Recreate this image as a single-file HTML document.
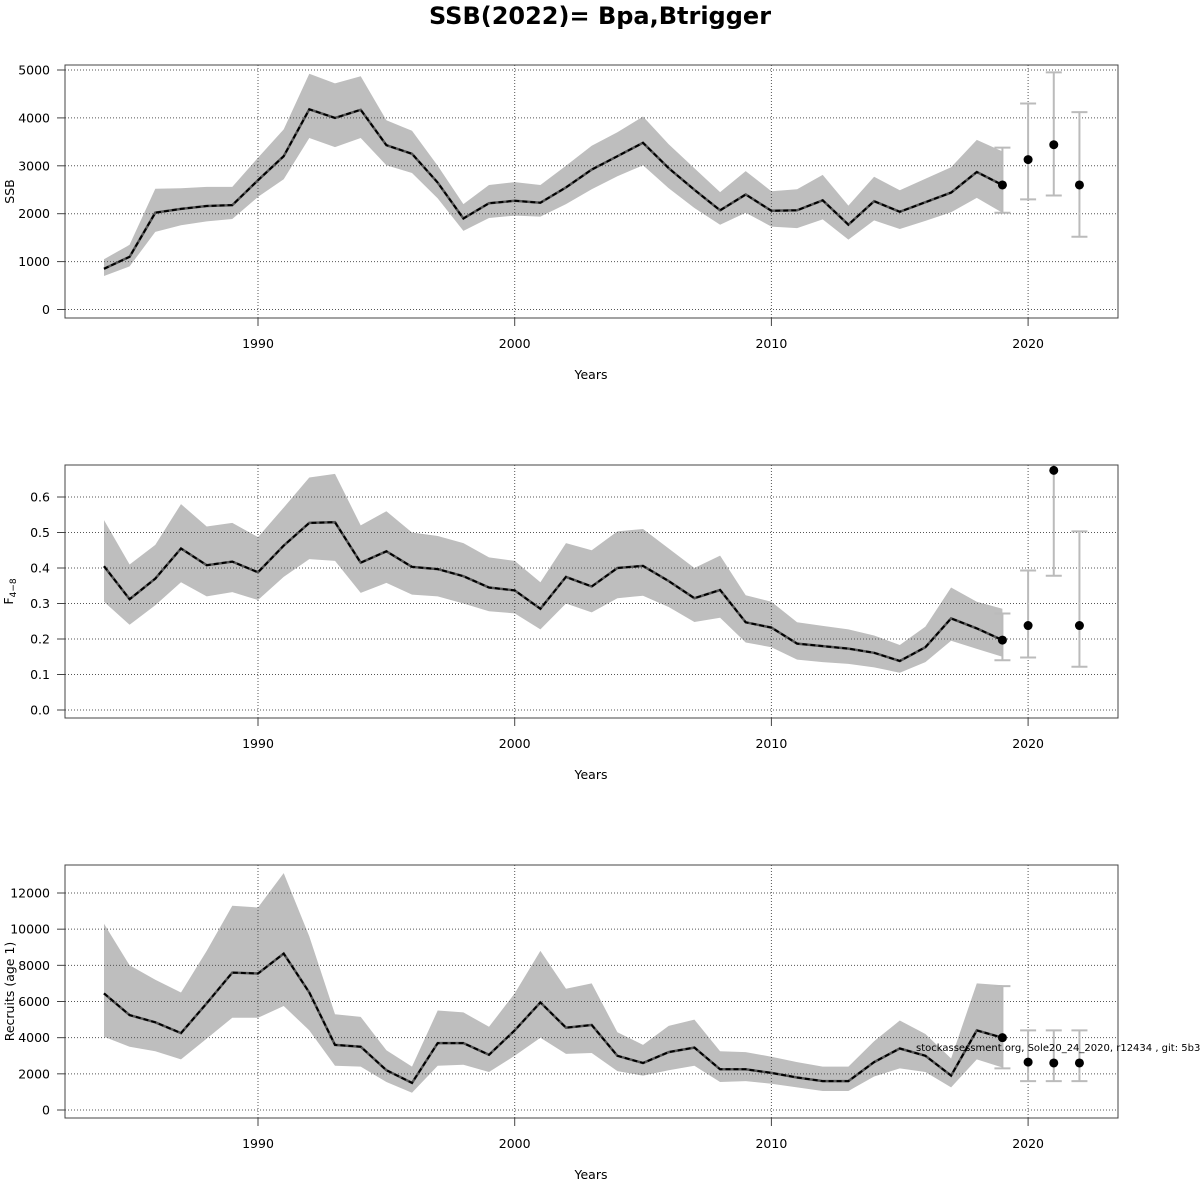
<!DOCTYPE html>
<html><head><meta charset="utf-8"><style>
html,body{margin:0;padding:0;background:#fff;width:1200px;height:1200px;overflow:hidden}
svg text{font-family:"DejaVu Sans","Liberation Sans",sans-serif;font-size:12.5px;fill:#000}
</style></head><body>
<svg id="s" width="1200" height="1200" xmlns="http://www.w3.org/2000/svg">
<text x="600" y="24" text-anchor="middle" style="font-size:24px;font-weight:bold">SSB(2022)= Bpa,Btrigger</text>
</svg>
<script>
const S=document.getElementById('s');const NS='http://www.w3.org/2000/svg';
function el(t,a,txt){const e=document.createElementNS(NS,t);for(const k in a)e.setAttribute(k,a[k]);if(txt!==undefined)e.textContent=txt;S.appendChild(e);return e;}
const X=y=>258+(y-1990)*25.67;
const yrs=[];for(let y=1984;y<=2019;y++)yrs.push(y);
const panels=[
{top:65,bot:318,v0:0,p0:309.5,v1:5000,p1:70,ticks:[0,1000,2000,3000,4000,5000],lab:t=>String(t),ylab:'SSB',
m:[850,1100,2020,2100,2160,2180,2700,3200,4180,4000,4170,3430,3250,2650,1900,2220,2270,2230,2550,2920,3200,3480,2950,2500,2070,2400,2060,2070,2280,1770,2260,2040,2240,2440,2870,2600],
u:[1050,1350,2520,2530,2560,2560,3170,3760,4920,4720,4870,3950,3730,3000,2200,2600,2660,2600,3000,3420,3700,4030,3450,2950,2450,2890,2470,2510,2810,2170,2770,2490,2730,2970,3540,3300],
l:[700,900,1620,1760,1840,1890,2350,2720,3580,3390,3580,3010,2850,2320,1640,1910,1960,1940,2200,2510,2780,3010,2530,2120,1770,2020,1730,1700,1880,1460,1860,1680,1850,2030,2330,2020],
pts:[[2019,2600,2020,3380],[2020,3130,2300,4300],[2021,3440,2380,4950],[2022,2600,1520,4120]]},
{top:465,bot:718,v0:0,p0:710,v1:0.6,p1:497,ticks:[0,.1,.2,.3,.4,.5,.6],lab:t=>t.toFixed(1),ylab:'F',
m:[.405,.312,.370,.455,.408,.418,.388,.463,.527,.529,.415,.447,.403,.397,.377,.345,.337,.285,.375,.348,.400,.406,.363,.315,.338,.247,.232,.187,.180,.173,.161,.138,.177,.258,.230,.197],
u:[.535,.410,.465,.580,.517,.527,.487,.570,.655,.665,.520,.560,.500,.490,.470,.430,.420,.360,.470,.450,.503,.510,.455,.400,.435,.323,.305,.247,.237,.227,.210,.183,.235,.345,.305,.285],
l:[.305,.240,.295,.360,.320,.332,.310,.375,.425,.420,.330,.358,.325,.320,.300,.278,.272,.227,.300,.275,.315,.322,.290,.248,.260,.190,.177,.142,.135,.130,.120,.105,.135,.195,.172,.150],
pts:[[2019,.197,.140,.272],[2020,.238,.148,.393],[2021,.675,.378,0.75],[2022,.238,.122,.503]]},
{top:865,bot:1118,v0:0,p0:1110,v1:12000,p1:893,ticks:[0,2000,4000,6000,8000,10000,12000],lab:t=>String(t),ylab:'Recruits (age 1)',
m:[6450,5250,4850,4250,5900,7600,7550,8650,6500,3600,3500,2200,1500,3700,3700,3050,4400,5950,4550,4700,3000,2600,3200,3450,2250,2250,2050,1800,1600,1600,2650,3400,3000,1900,4400,4000],
u:[10300,8000,7200,6500,8800,11300,11200,13100,9600,5300,5150,3300,2400,5500,5400,4600,6450,8800,6700,7000,4300,3600,4650,5000,3250,3200,2950,2650,2400,2400,3800,4950,4200,2850,7000,6900],
l:[4050,3500,3250,2800,3950,5100,5100,5750,4400,2450,2400,1550,950,2450,2500,2100,3000,4000,3100,3150,2150,1900,2200,2450,1550,1600,1450,1250,1050,1050,1850,2300,2100,1250,2800,2350],
pts:[[2019,4000,2300,6850],[2020,2650,1600,4400],[2021,2600,1600,4400],[2022,2600,1600,4400]]}];
panels.forEach((P,i)=>{
 const Y=v=>P.p0+(v-P.v0)*(P.p1-P.p0)/(P.v1-P.v0);
 const cid='c'+i;
 const cp=el('clipPath',{id:cid});const r=document.createElementNS(NS,'rect');
 r.setAttribute('x',65);r.setAttribute('y',P.top);r.setAttribute('width',1053);r.setAttribute('height',P.bot-P.top);cp.appendChild(r);
 let d='M'+yrs.map((y,k)=>X(y).toFixed(1)+','+Y(P.u[k]).toFixed(1)).join('L');
 for(let k=yrs.length-1;k>=0;k--)d+='L'+X(yrs[k]).toFixed(1)+','+Y(P.l[k]).toFixed(1);
 el('path',{d:d+'Z',fill:'#bebebe','clip-path':`url(#${cid})`});
 P.ticks.forEach(t=>el('line',{x1:65,x2:1118,y1:Y(t),y2:Y(t),stroke:'#555','stroke-dasharray':'1 2','stroke-width':1}));
 [1990,2000,2010,2020].forEach(y=>el('line',{x1:X(y),x2:X(y),y1:P.top,y2:P.bot,stroke:'#555','stroke-dasharray':'1 2','stroke-width':1}));
 const line=yrs.map((y,k)=>X(y).toFixed(1)+','+Y(P.m[k]).toFixed(1)).join(' ');
 el('polyline',{points:line,fill:'none',stroke:'#555','stroke-width':2.5});
 el('polyline',{points:line,fill:'none',stroke:'#000','stroke-width':2,'stroke-dasharray':'5 3'});
 P.pts.forEach(p=>{const x=X(p[0]);const g=el('g',{'clip-path':`url(#${cid})`,stroke:'#bbbbbb','stroke-width':2});
  [['line',{x1:x,x2:x,y1:Y(p[2]),y2:Y(p[3])}],['line',{x1:x-8,x2:x+8,y1:Y(p[2]),y2:Y(p[2])}],['line',{x1:x-8,x2:x+8,y1:Y(p[3]),y2:Y(p[3])}]].forEach(a=>{const e=document.createElementNS(NS,a[0]);for(const k in a[1])e.setAttribute(k,a[1][k]);g.appendChild(e);});
  el('circle',{cx:x,cy:Y(p[1]),r:4.5,fill:'#000','clip-path':`url(#${cid})`});});
 el('rect',{x:65,y:P.top,width:1053,height:P.bot-P.top,fill:'none',stroke:'#444','stroke-width':1});
 P.ticks.forEach(t=>{el('line',{x1:57,x2:65,y1:Y(t),y2:Y(t),stroke:'#444'});el('text',{x:50,y:Y(t)+4.5,'text-anchor':'end'},P.lab(t));});
 el('line',{x1:X(1990),x2:X(2020),y1:P.bot,y2:P.bot,stroke:'#444'});
 [1990,2000,2010,2020].forEach(y=>{el('line',{x1:X(y),x2:X(y),y1:P.bot,y2:P.bot+8,stroke:'#444'});el('text',{x:X(y),y:P.bot+30,'text-anchor':'middle'},String(y));});
 el('text',{x:591,y:P.bot+61,'text-anchor':'middle'},'Years');
 const cy=(P.top+P.bot)/2;
 if(i==1){const t=el('text',{transform:`translate(13,${cy}) rotate(-90)`,'text-anchor':'middle'},'F');const ts=document.createElementNS(NS,'tspan');ts.setAttribute('dy','3');ts.setAttribute('style','font-size:9px');ts.textContent='4\u22128';t.appendChild(ts);}
 else el('text',{transform:`translate(14,${cy}) rotate(-90)`,'text-anchor':'middle'},P.ylab);
});
el('text',{x:916,y:1051,style:'font-size:10px'},'stockassessment.org, Sole20_24_2020, r12434 , git: 5b334');
</script>
</body></html>
